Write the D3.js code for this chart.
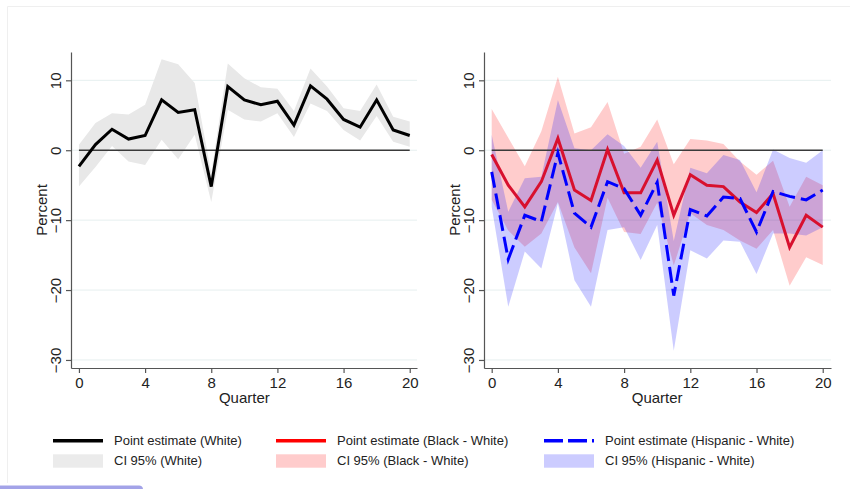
<!DOCTYPE html>
<html>
<head>
<meta charset="utf-8">
<script src="https://cdnjs.cloudflare.com/ajax/libs/d3/7.8.5/d3.min.js"></script>
<style>
  body { margin: 0; background: #fff; }
  svg { font-family: 'Liberation Sans', Arial, sans-serif; }
  .axis path, .axis line { stroke: #555; stroke-width: 1.2; }
  .axis .tick text { font-size: 15px; fill: #222; }
  .axis-title { font-size: 15px; fill: #222; }
  .legend text { font-size: 13px; fill: #222; }
</style>
</head>
<body>
<script>
const quarters = [0, 1, 2, 3, 4, 5, 6, 7, 8, 9, 10, 11, 12, 13, 14, 15, 16, 17, 18, 19, 20];
const xTicks = [0, 4, 8, 12, 16, 20];
const yTicks = [-30, -20, -10, 0, 10];

const whitePoint = [-2.3, 0.8, 3.0, 1.6, 2.1, 7.2, 5.4, 5.8, -5.2, 9.1, 7.2, 6.5, 7.0, 3.6, 9.2, 7.3, 4.4, 3.3, 7.2, 2.9, 2.1];
const whiteUpper = [0.8, 3.9, 5.3, 5.1, 6.5, 13.0, 12.3, 9.6, -3.3, 12.4, 10.3, 9.0, 8.8, 5.6, 11.7, 9.1, 6.0, 5.6, 9.4, 4.8, 4.1];
const whiteLower = [-5.2, -2.4, 0.6, -1.6, -2.1, 1.5, -1.3, 2.2, -7.4, 5.8, 4.4, 4.1, 5.3, 1.9, 6.7, 5.6, 2.9, 1.4, 4.9, 1.2, 0.5];

const blackPoint = [-0.6, -5.0, -8.1, -4.5, 1.7, -5.7, -7.2, 0.1, -6.1, -6.1, -1.4, -9.3, -3.5, -5.0, -5.2, -7.4, -8.9, -6.2, -13.9, -9.3, -11.0];
const blackUpper = [5.9, 1.8, -2.3, 2.7, 10.5, 2.4, 3.3, 6.9, -0.5, 0.5, 4.4, -2.0, 1.6, 1.4, 0.9, -1.6, -3.5, -1.5, -8.1, -3.8, -5.0];
const blackLower = [-7.1, -11.5, -13.8, -11.9, -7.4, -13.9, -17.6, -6.8, -11.7, -12.0, -7.5, -16.5, -9.0, -10.7, -11.4, -12.9, -14.1, -11.4, -19.4, -15.3, -16.4];

const hispPoint = [-3.1, -15.6, -9.3, -10.2, -0.4, -9.0, -11.0, -4.5, -5.5, -9.3, -4.6, -20.8, -8.5, -9.4, -6.7, -6.9, -11.7, -5.9, -6.6, -7.1, -5.7];
const hispUpper = [2.2, -8.8, -4.0, -3.8, 7.2, 0.3, 0.0, 2.3, 0.6, -2.5, 1.2, -13.0, -2.5, -3.3, -0.7, -1.4, -6.0, 0.1, -1.1, -1.8, 0.0];
const hispLower = [-8.1, -22.4, -14.5, -16.9, -7.6, -18.6, -22.4, -11.4, -11.0, -15.7, -10.7, -28.7, -14.3, -15.5, -12.9, -13.1, -17.7, -11.9, -11.9, -12.2, -11.0];

const w = 850;
const h = 489;

const svg = d3.select('body')
              .append('svg')
              .attr('width', w)
              .attr('height', h);

// faint top/left frame edge and the bar at the bottom edge
svg.append('path')
   .attr('d', 'M7.5,483V6.5H850')
   .attr('fill', 'none')
   .attr('stroke', '#efefef');
svg.append('rect')
   .attr('x', -6).attr('y', 485.5)
   .attr('width', 149).attr('height', 10)
   .attr('rx', 4)
   .attr('fill', '#a3a3e8');

const yScale = d3.scaleLinear()
                 .domain([-31.15, 14.05])
                 .range([368, 52]);

const xLeft = d3.scaleLinear()
                .domain([-0.48, 20.44])
                .range([71, 417]);

const xRight = d3.scaleLinear()
                 .domain([-0.465, 20.5])
                 .range([484, 831]);

function drawPanel(xScale, bands, lines) {
  const g = svg.append('g');
  const x0 = xScale.range()[0];

  g.selectAll('.grid')
   .data(yTicks)
   .enter()
   .append('line')
   .attr('x1', xScale.range()[0])
   .attr('x2', xScale.range()[1])
   .attr('y1', (d) => yScale(d))
   .attr('y2', (d) => yScale(d))
   .attr('stroke', '#e6efef')
   .attr('stroke-width', 1);

  bands.forEach((b) => {
    const area = d3.area()
                   .x((d, i) => xScale(quarters[i]))
                   .y0((d, i) => yScale(b.lower[i]))
                   .y1((d, i) => yScale(b.upper[i]));
    g.append('path')
     .datum(quarters)
     .attr('d', area)
     .attr('fill', b.fill)
     .attr('fill-opacity', b.opacity);
  });

  g.append('line')
   .attr('x1', xScale(0))
   .attr('x2', xScale(20))
   .attr('y1', yScale(0))
   .attr('y2', yScale(0))
   .attr('stroke', '#3a3a3a')
   .attr('stroke-width', 1.3);

  lines.forEach((l) => {
    const line = d3.line()
                   .x((d, i) => xScale(quarters[i]))
                   .y((d) => yScale(d));
    g.append('path')
     .datum(l.values)
     .attr('d', line)
     .attr('fill', 'none')
     .attr('stroke', l.color)
     .attr('stroke-width', 3)
     .attr('stroke-linejoin', 'miter')
     .attr('stroke-dasharray', l.dash || null);
  });

  const xAxis = d3.axisBottom(xScale).tickValues(xTicks).tickSize(5).tickSizeOuter(0);
  const yAxis = d3.axisLeft(yScale).tickValues(yTicks).tickSize(5).tickSizeOuter(0);

  g.append('g')
   .attr('class', 'axis')
   .attr('transform', 'translate(0,' + yScale.range()[0] + ')')
   .call(xAxis)
   .selectAll('text')
   .attr('y', 9)
   .attr('dy', '0.71em');

  g.append('g')
   .attr('class', 'axis')
   .attr('transform', 'translate(' + x0 + ',0)')
   .call(yAxis)
   .selectAll('.tick text')
   .attr('x', 0)
   .attr('y', -10)
   .attr('dy', 0)
   .attr('text-anchor', 'middle')
   .attr('transform', 'rotate(-90)');

  g.selectAll('.axis text').attr('font-family', null).attr('font-size', null);

  g.append('text')
   .attr('class', 'axis-title')
   .text('Quarter')
   .attr('text-anchor', 'middle')
   .attr('x', xScale(10))
   .attr('y', 402.5);

  g.append('text')
   .attr('class', 'axis-title')
   .text('Percent')
   .attr('text-anchor', 'middle')
   .attr('transform', 'translate(' + (x0 - 24) + ',210)rotate(-90)');
}

drawPanel(xLeft,
  [{ upper: whiteUpper, lower: whiteLower, fill: '#e8e8e8', opacity: 1 }],
  [{ values: whitePoint, color: '#000' }]);

drawPanel(xRight,
  [{ upper: blackUpper, lower: blackLower, fill: '#ff0000', opacity: 0.2 },
   { upper: hispUpper, lower: hispLower, fill: '#0000ff', opacity: 0.2 }],
  [{ values: blackPoint, color: '#d8102e' },
   { values: hispPoint, color: '#0000ff', dash: '16,6' }]);

// legend
const legendItems = [
  { x: 53, row: 0, type: 'line', color: '#000', label: 'Point estimate (White)' },
  { x: 53, row: 1, type: 'rect', color: '#ebebeb', label: 'CI 95% (White)' },
  { x: 276, row: 0, type: 'line', color: '#ff0000', label: 'Point estimate (Black - White)' },
  { x: 276, row: 1, type: 'rect', color: '#ffcccc', label: 'CI 95% (Black - White)' },
  { x: 544, row: 0, type: 'line', color: '#0000ff', dash: '19,5', label: 'Point estimate (Hispanic - White)' },
  { x: 544, row: 1, type: 'rect', color: '#ccccff', label: 'CI 95% (Hispanic - White)' }
];

const legend = svg.append('g').attr('class', 'legend');
legendItems.forEach((d) => {
  const cy = 440.7 + d.row * 20.3;
  if (d.type === 'line') {
    legend.append('line')
          .attr('x1', d.x).attr('x2', d.x + 50)
          .attr('y1', cy).attr('y2', cy)
          .attr('stroke', d.color)
          .attr('stroke-width', 3.5)
          .attr('stroke-dasharray', d.dash || null);
  } else {
    legend.append('rect')
          .attr('x', d.x).attr('y', cy - 6.7)
          .attr('width', 50).attr('height', 13.4)
          .attr('fill', d.color);
  }
  legend.append('text')
        .text(d.label)
        .attr('x', d.x + 61)
        .attr('y', cy + 4.2);
});
</script>
</body>
</html>
